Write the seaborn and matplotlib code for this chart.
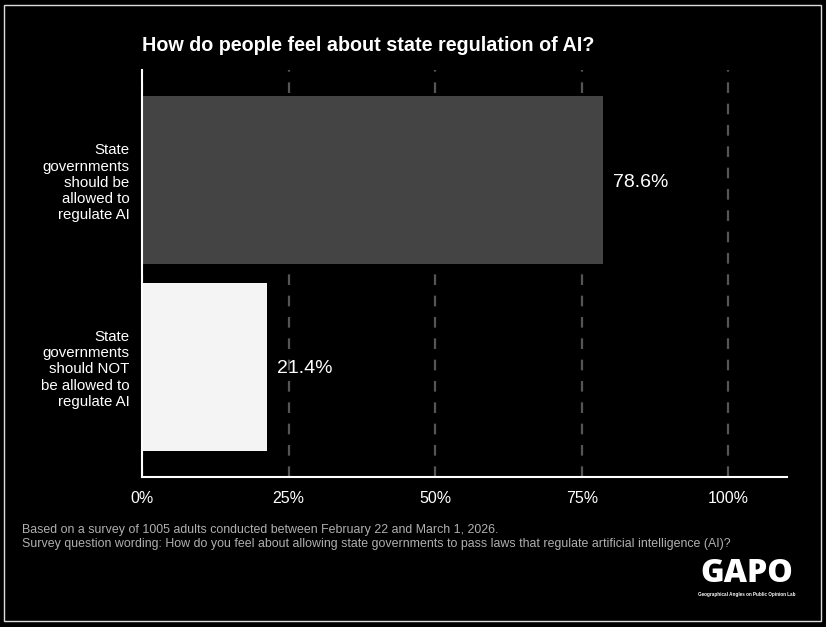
import matplotlib
matplotlib.use("Agg")
import matplotlib.pyplot as plt
import seaborn as sns
import pandas as pd
from matplotlib.patches import Rectangle

# data
categories = ["State\ngovernments\nshould be\nallowed to\nregulate AI",
              "State\ngovernments\nshould NOT\nbe allowed to\nregulate AI"]
shares = [78.6, 21.4]
bar_colors = ["#444444", "#f4f4f4"]
tick_values = [0, 25, 50, 75, 100]
tick_labels = ["0%", "25%", "50%", "75%", "100%"]
title = "How do people feel about state regulation of AI?"
caption = ("Based on a survey of 1005 adults conducted between February 22 and March 1, 2026.\n"
           "Survey question wording: How do you feel about allowing state governments to pass laws "
           "that regulate artificial intelligence (AI)?")

df = pd.DataFrame({"label": categories, "share": shares})

sns.set_style("dark")
plt.rcParams["font.family"] = ["Liberation Sans", "DejaVu Sans"]

fig = plt.figure(figsize=(8.26, 6.27), dpi=100, facecolor="black")
ax = fig.add_axes([0.1719, 0.2392, 0.7809, 0.6492])
ax.set_facecolor("black")

sns.barplot(data=df, x="share", y="label", hue="label", palette=bar_colors,
            orient="h", width=0.9, legend=False, ax=ax, zorder=3,
            linewidth=0, edgecolor="none")

ax.set_xlim(0, 110)
ax.set_ylim(1.59, -0.59)
ax.set_xticks(tick_values)
ax.set_xticklabels(tick_labels)
ax.set_xlabel("")
ax.set_ylabel("")
ax.tick_params(axis="x", length=0, pad=10, labelsize=11.5, colors="white")
ax.tick_params(axis="y", length=0, pad=9, labelsize=10.8, colors="white")
for lbl in ax.get_yticklabels():
    lbl.set_horizontalalignment("right")

ax.grid(axis="x", color="#555555", linestyle=(0, (4.8, 4.8)), linewidth=1.6, zorder=1)
ax.grid(axis="y", visible=False)
ax.set_axisbelow(True)

for side in ["top", "right"]:
    ax.spines[side].set_visible(False)
for side in ["left", "bottom"]:
    ax.spines[side].set_visible(True)
    ax.spines[side].set_color("white")
    ax.spines[side].set_linewidth(1.5)
    ax.spines[side].set_zorder(4)

for i, v in enumerate(shares):
    ax.text(v + 1.7, i, f"{v}%", color="white", fontsize=14, va="center_baseline", ha="left")

fig.text(0.1719, 0.928, title, color="white", fontsize=14.2, fontweight="bold",
         ha="left", va="center")
fig.text(0.0266, 0.143, caption, color="#b0b0b0", fontsize=8.9, ha="left", va="center",
         linespacing=1.2)

# logo
fig.text(0.904, 0.0718, "GAPO", color="white", fontsize=23, fontweight="heavy",
         family=["Open Sans", "DejaVu Sans"], ha="center", va="baseline")
fig.text(0.904, 0.0520, "Geographical Angles on Public Opinion Lab", color="white",
         fontsize=3.3, fontweight="bold", ha="center", va="center")

# outer frame
fig.patches.append(Rectangle((0.0048, 0.0096), 0.989, 0.982, transform=fig.transFigure,
                             fill=False, edgecolor="#dddddd", linewidth=1))

fig.savefig("out.png", dpi=100, facecolor="black")
